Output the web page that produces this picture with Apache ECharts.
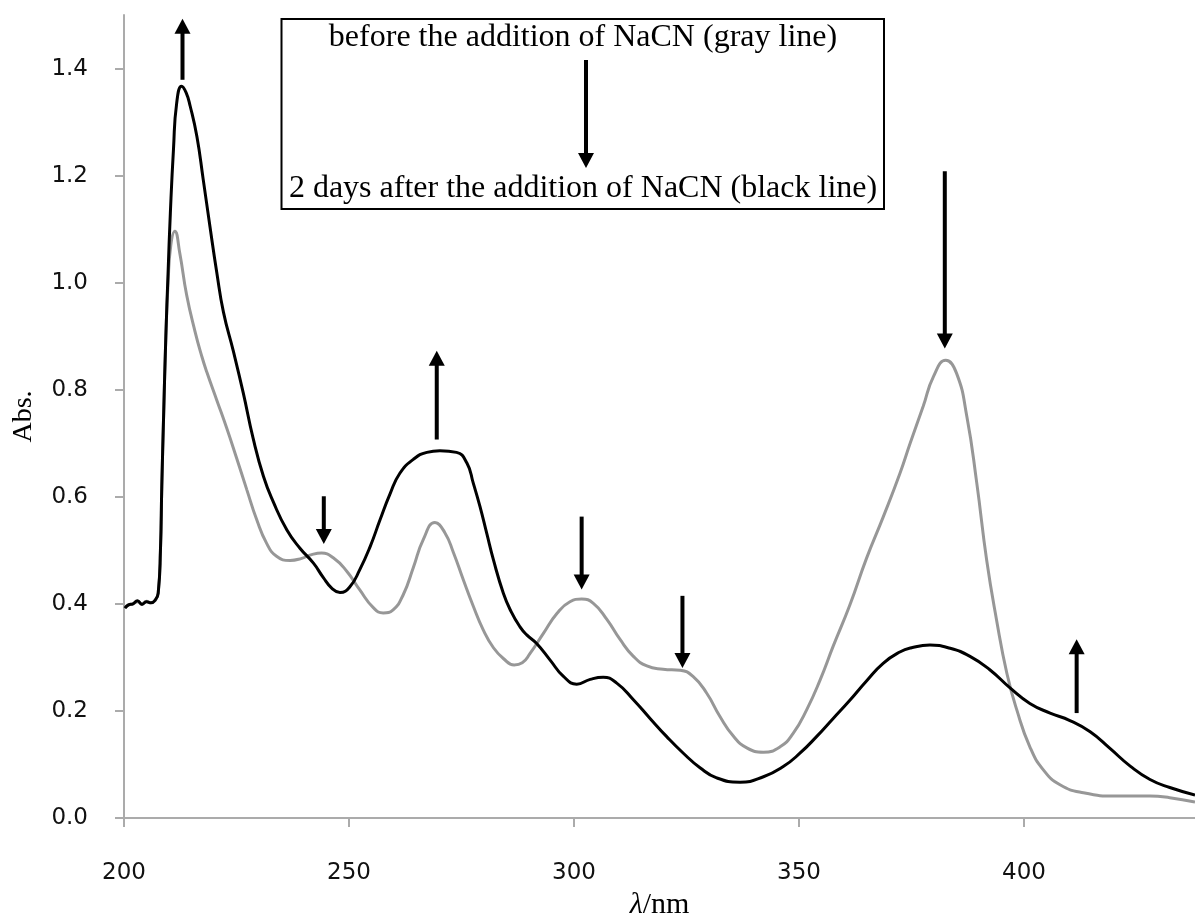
<!DOCTYPE html>
<html>
<head>
<meta charset="utf-8">
<script src="https://cdn.jsdelivr.net/npm/echarts@6/dist/echarts.min.js"></script>
<style>
html,body{margin:0;padding:0;background:#fff;}
#chart{width:1195px;height:913px;}
</style>
</head>
<body>
<div id="chart"></div>
<script>
// ---- data ----
const xTicks = [200, 250, 300, 350, 400];
const yTicks = [0, 0.2, 0.4, 0.6, 0.8, 1.0, 1.2, 1.4];

// before NaCN (gray line)
const grayX = [200.2,201,202,203,204,205,206,207,207.6,208.1,208.4,208.8,209.3,209.8,210.4,211.3,212.4,213.9,215.8,217.3,218.4,220.6,222.8,225,227.3,229.5,231.7,233.9,236.9,239.5,241.7,243.9,246.5,249.5,252.4,255.4,257.6,259.8,262.1,264.3,266.5,269.1,271.3,273.2,275.4,277.6,279.8,282.1,284.3,286.7,288.5,290.2,293.2,296.2,299.1,301.7,304.3,307.3,310.2,313.2,316.2,319.8,323.6,326.5,329.5,332.4,335.4,338.4,342.1,345.8,348.7,351.7,354.7,357.6,361.3,365,368.7,372.4,374.7,377.6,379.9,382.6,385,387.3,389.5,391.7,393.9,396.2,398.4,401.3,404.3,408,413.2,420.6,428,432.4,438];
const grayY = [0.392,0.398,0.400,0.404,0.400,0.405,0.402,0.407,0.42,0.50,0.62,0.75,0.90,1.00,1.07,1.096,1.055,0.978,0.908,0.862,0.833,0.781,0.729,0.673,0.613,0.557,0.513,0.489,0.481,0.485,0.492,0.495,0.486,0.461,0.426,0.393,0.383,0.389,0.418,0.468,0.520,0.552,0.533,0.496,0.445,0.396,0.352,0.318,0.298,0.286,0.290,0.307,0.345,0.382,0.404,0.409,0.401,0.371,0.334,0.302,0.284,0.278,0.276,0.264,0.233,0.190,0.153,0.131,0.123,0.133,0.158,0.202,0.258,0.321,0.398,0.485,0.562,0.643,0.700,0.769,0.825,0.855,0.831,0.750,0.626,0.482,0.370,0.270,0.202,0.133,0.090,0.062,0.047,0.041,0.041,0.038,0.030];

// 2 days after NaCN (black line)
const blackX = [200.2,201,202,203,204,205,206,207,207.6,208.1,208.4,208.8,209.3,209.8,210.3,211,211.7,212.8,213.8,214.7,216.2,217.6,219.1,220.6,222.1,224.3,226.5,228.7,231,233.2,236.2,239.1,242.1,244.3,246.2,248,250.2,252.4,254.7,256.9,259.1,261.3,264.3,267.3,270.2,273.9,276.2,277.6,279.1,280.6,282.1,284.3,286,288,289.5,291.7,294.7,297.6,300.6,303.6,306.5,309.5,313.2,316.9,320.6,324.3,328,331.7,336.9,342.1,346.5,350.2,353.9,357.6,361.3,365,368.7,372.4,375,379.1,383.6,388,392.4,396.9,401.3,405.8,410.2,414.7,419.1,423.6,428,432.4,438];
const blackY = [0.392,0.398,0.400,0.406,0.399,0.404,0.402,0.408,0.42,0.50,0.62,0.75,0.90,1.02,1.13,1.25,1.335,1.367,1.355,1.33,1.273,1.193,1.105,1.020,0.945,0.872,0.794,0.709,0.638,0.590,0.538,0.504,0.476,0.449,0.429,0.421,0.432,0.464,0.507,0.557,0.605,0.644,0.670,0.683,0.686,0.683,0.663,0.626,0.582,0.532,0.482,0.420,0.386,0.357,0.342,0.326,0.295,0.265,0.250,0.259,0.263,0.252,0.221,0.186,0.152,0.121,0.094,0.075,0.067,0.077,0.096,0.121,0.152,0.186,0.220,0.256,0.289,0.310,0.318,0.323,0.317,0.302,0.277,0.243,0.214,0.196,0.182,0.161,0.130,0.097,0.072,0.057,0.043];

// change arrows: wavelength, tail Abs, tip Abs
const arrowX    = [213.0, 244.4, 269.5, 301.7, 324.1, 382.4, 411.7];
const arrowTail = [1.379, 0.601, 0.707, 0.563, 0.415, 1.208, 0.196];
const arrowTip  = [1.493, 0.512, 0.873, 0.427, 0.280, 0.877, 0.334];

const boxLine1 = 'before the addition of NaCN (gray line)';
const boxLine2 = '2 days after the addition of NaCN (black line)';

// ---- build ----
const zip = (a, b) => a.map((v, i) => [v, b[i]]);
const arrowData = arrowX.map((x, i) => [x, arrowTail[i], arrowTip[i]]);

const axisGray = '#ababab';
const chart = echarts.init(document.getElementById('chart'), null, {renderer: 'canvas'});

chart.setOption({
  animation: false,
  backgroundColor: '#ffffff',
  grid: {left: 124, right: 0, top: 15, bottom: 95, containLabel: false, outerBoundsMode: 'none'},
  xAxis: {
    type: 'value',
    min: 200, max: 438, interval: 50,
    splitLine: {show: false},
    axisLine: {show: true, onZero: false, lineStyle: {color: axisGray, width: 2}},
    axisTick: {show: true, inside: false, length: 9, lineStyle: {color: axisGray, width: 2}, customValues: xTicks},
    axisLabel: {show: true, margin: 44, color: '#111', fontSize: 23, fontFamily: 'DejaVu Sans', customValues: xTicks},
    name: '{i|λ}{r|/nm}',
    nameLocation: 'middle',
    nameGap: 66,
    nameTextStyle: {
      rich: {
        i: {fontFamily: 'Liberation Serif', fontStyle: 'italic', fontSize: 30, color: '#000'},
        r: {fontFamily: 'Liberation Serif', fontSize: 30, color: '#000'}
      }
    }
  },
  yAxis: {
    type: 'value',
    min: 0, max: 1.5, interval: 0.2,
    splitLine: {show: false},
    axisLine: {show: true, lineStyle: {color: axisGray, width: 2}},
    axisTick: {show: true, inside: false, length: 9, lineStyle: {color: axisGray, width: 2}, customValues: yTicks},
    axisLabel: {show: true, margin: 36, color: '#111', fontSize: 23, fontFamily: 'DejaVu Sans', customValues: yTicks,
      formatter: v => Number(v).toFixed(1)},
    name: 'Abs.',
    nameLocation: 'middle',
    nameGap: 86,
    nameRotate: 90,
    nameTextStyle: {fontFamily: 'Liberation Serif', fontSize: 28, color: '#000'}
  },
  series: [
    {
      name: 'before', type: 'line', data: zip(grayX, grayY),
      showSymbol: false, smooth: 0.5,
      lineStyle: {color: '#979797', width: 3}, z: 2
    },
    {
      name: 'after', type: 'line', data: zip(blackX, blackY),
      showSymbol: false, smooth: 0.5,
      lineStyle: {color: '#000000', width: 3}, z: 3
    },
    {
      name: 'arrows', type: 'custom', data: arrowData, clip: false, z: 4,
      encode: {x: 0, y: [1, 2]},
      renderItem: function (params, api) {
        const x = api.value(0);
        const p1 = api.coord([x, api.value(1)]);
        const p2 = api.coord([x, api.value(2)]);
        const dir = p2[1] > p1[1] ? 1 : -1;
        const headH = 15, headW = 16;
        const base = p2[1] - dir * headH;
        return {
          type: 'group',
          children: [
            {type: 'line', shape: {x1: p1[0], y1: p1[1], x2: p2[0], y2: base + dir * 1},
             style: {stroke: '#000', lineWidth: 4}},
            {type: 'polygon', shape: {points: [[p2[0] - headW / 2, base], [p2[0] + headW / 2, base], [p2[0], p2[1]]]},
             style: {fill: '#000'}}
          ]
        };
      }
    }
  ],
  graphic: [
    {type: 'rect', shape: {x: 281.5, y: 19, width: 602.5, height: 190}, style: {fill: '#fff', stroke: '#000', lineWidth: 2}, z: 10},
    {type: 'text', x: 583, y: 38, style: {text: boxLine1, font: '32px "Liberation Serif"', fill: '#000', align: 'center', verticalAlign: 'middle'}, z: 11},
    {type: 'text', x: 583, y: 189, style: {text: boxLine2, font: '32px "Liberation Serif"', fill: '#000', align: 'center', verticalAlign: 'middle'}, z: 11},
    {type: 'line', shape: {x1: 586, y1: 60, x2: 586, y2: 154}, style: {stroke: '#000', lineWidth: 4}, z: 11},
    {type: 'polygon', shape: {points: [[578, 153], [594, 153], [586, 168]]}, style: {fill: '#000'}, z: 11}
  ]
});
</script>
</body>
</html>
